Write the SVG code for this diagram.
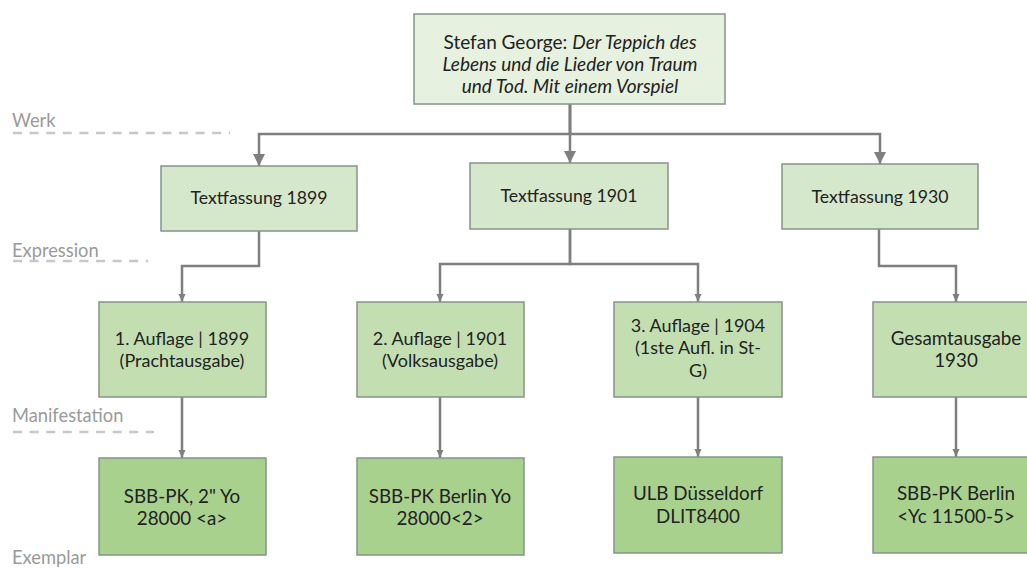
<svg xmlns="http://www.w3.org/2000/svg" width="1027" height="571" viewBox="0 0 1027 571">
<defs>
<style>
.box{stroke:#84948a;stroke-width:1.5}
.n0{fill:#e7f1e0}
.n1{fill:#d6e8cc}
.n2{fill:#c3dfb2}
.n3{fill:#a9d18e}
.t0{font-family:Lato,"Open Sans",sans-serif;font-size:19px;fill:#222;text-anchor:middle}
.t{font-family:Lato,"Open Sans",sans-serif;font-size:17.7px;fill:#222;text-anchor:middle}
.t2{font-family:Lato,"Open Sans",sans-serif;font-size:18px;fill:#222;text-anchor:middle}
.t3{font-family:Lato,"Open Sans",sans-serif;font-size:18.8px;fill:#222;text-anchor:middle}
.lbl{font-family:Lato,"Open Sans",sans-serif;font-size:18.3px;fill:#9a9a9a}
.dash{stroke:#c8c8c8;stroke-width:2.5;stroke-dasharray:9 7.6;fill:none}
.c{stroke:#7f7f7f;stroke-width:2.5;fill:none}
.big{marker-end:url(#ab)}
.sm{marker-end:url(#as)}
</style>
<marker id="ab" markerUnits="userSpaceOnUse" markerWidth="14" markerHeight="14" viewBox="0 0 14 14" refX="7" refY="12" orient="0">
<path d="M1,0 L13,0 L7,12 Z" fill="#7f7f7f"/>
</marker>
<marker id="as" markerUnits="userSpaceOnUse" markerWidth="10" markerHeight="10" viewBox="0 0 10 10" refX="5" refY="8" orient="0">
<path d="M1.5,0 L8.5,0 L5,8 Z" fill="#7f7f7f"/>
</marker>
</defs>
<rect width="1027" height="571" fill="#fff"/>

<g id="levels">
<text class="lbl" x="12" y="127">Werk</text>
<line class="dash" x1="13" y1="133" x2="230" y2="133"/>
<text class="lbl" x="12" y="257">Expression</text>
<line class="dash" x1="13" y1="261" x2="148" y2="261"/>
<text class="lbl" x="12" y="422">Manifestation</text>
<line class="dash" x1="13" y1="432" x2="154" y2="432"/>
<text class="lbl" x="12" y="564">Exemplar</text>
</g>

<g id="connectors">
<path class="c big" d="M570,104 V134 H259 V166"/>
<path class="c big" d="M570,104 V163"/>
<path class="c big" d="M570,104 V134 H880 V164"/>
<path class="c sm" d="M259,231 V266 H182 V302"/>
<path class="c sm" d="M570,229 V264 H440 V302"/>
<path class="c sm" d="M570,229 V264 H698 V302"/>
<path class="c sm" d="M879,229 V266 H956 V302"/>
<path class="c sm" d="M182,397 V458"/>
<path class="c sm" d="M440,397 V458"/>
<path class="c sm" d="M698,397 V457"/>
<path class="c sm" d="M956,397 V457"/>
</g>

<g id="werk">
<rect class="box n0" x="414" y="14" width="311" height="90"/>
<text class="t0" x="570" y="49">Stefan George: <tspan font-style="italic">Der Teppich des</tspan></text>
<text class="t0" x="570" y="71" font-style="italic">Lebens und die Lieder von Traum</text>
<text class="t0" x="570" y="93" font-style="italic">und Tod. Mit einem Vorspiel</text>
</g>

<g id="tf1899">
<rect class="box n1" x="161" y="166" width="196" height="65"/>
<text class="t" x="259" y="204">Textfassung 1899</text>
</g>
<g id="tf1901">
<rect class="box n1" x="470" y="163" width="198" height="66"/>
<text class="t" x="569" y="202">Textfassung 1901</text>
</g>
<g id="tf1930">
<rect class="box n1" x="782" y="164" width="196" height="65"/>
<text class="t" x="880" y="203">Textfassung 1930</text>
</g>

<g id="m1">
<rect class="box n2" x="99" y="302" width="167" height="95"/>
<text class="t2" x="182" y="345">1. Auflage | 1899</text>
<text class="t2" x="182" y="367">(Prachtausgabe)</text>
</g>
<g id="m2">
<rect class="box n2" x="357" y="302" width="167" height="95"/>
<text class="t2" x="440" y="345">2. Auflage | 1901</text>
<text class="t2" x="440" y="367">(Volksausgabe)</text>
</g>
<g id="m3">
<rect class="box n2" x="614" y="302" width="168" height="95"/>
<text class="t2" x="698" y="332">3. Auflage | 1904</text>
<text class="t2" x="698" y="354">(1ste Aufl. in St-</text>
<text class="t2" x="698" y="377">G)</text>
</g>
<g id="m4">
<rect class="box n2" x="873" y="302" width="167" height="95"/>
<text class="t3" x="956" y="345">Gesamtausgabe</text>
<text class="t3" x="956" y="367">1930</text>
</g>

<g id="e1">
<rect class="box n3" x="99" y="458" width="167" height="97"/>
<text class="t3" x="182" y="503">SBB-PK, 2" Yo</text>
<text class="t3" x="182" y="525">28000 &lt;a&gt;</text>
</g>
<g id="e2">
<rect class="box n3" x="357" y="458" width="167" height="97"/>
<text class="t3" x="440" y="503">SBB-PK Berlin Yo</text>
<text class="t3" x="440" y="525">28000&lt;2&gt;</text>
</g>
<g id="e3">
<rect class="box n3" x="614" y="457" width="168" height="96"/>
<text class="t3" x="698" y="500">ULB Düsseldorf</text>
<text class="t3" x="698" y="523">DLIT8400</text>
</g>
<g id="e4">
<rect class="box n3" x="873" y="457" width="167" height="96"/>
<text class="t3" x="956" y="500">SBB-PK Berlin</text>
<text class="t3" x="956" y="523">&lt;Yc 11500-5&gt;</text>
</g>
</svg>
